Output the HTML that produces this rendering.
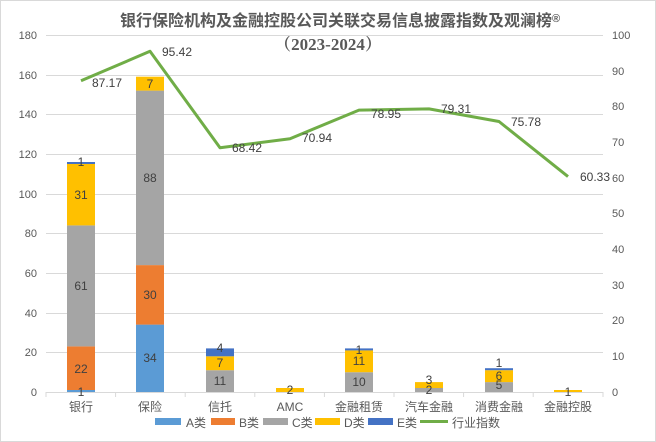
<!DOCTYPE html>
<html><head><meta charset="utf-8"><style>
body{margin:0;background:#fff}
svg{display:block;font-family:"Liberation Sans","Noto Sans CJK SC",sans-serif}
</style></head><body>
<svg width="656" height="442" viewBox="0 0 656 442">
<rect x="0.5" y="0.5" width="655" height="441" fill="#fff" stroke="#d9d9d9"/>
<text x="340" y="26" text-anchor="middle" font-size="16" font-weight="bold" fill="#595959">银行保险机构及金融控股公司关联交易信息披露指数及观澜榜<tspan font-size="11" dy="-4">®</tspan></text>
<text x="328" y="50" text-anchor="middle" font-size="17" font-weight="bold" fill="#595959" font-family="Liberation Serif,'Noto Serif CJK SC',serif">（2023-2024）</text>
<g stroke="#d9d9d9" stroke-width="1">
<line x1="46" x2="603" y1="35.5" y2="35.5"/><line x1="46" x2="603" y1="75.5" y2="75.5"/><line x1="46" x2="603" y1="114.5" y2="114.5"/><line x1="46" x2="603" y1="154.5" y2="154.5"/><line x1="46" x2="603" y1="194.5" y2="194.5"/><line x1="46" x2="603" y1="233.5" y2="233.5"/><line x1="46" x2="603" y1="273.5" y2="273.5"/><line x1="46" x2="603" y1="313.5" y2="313.5"/><line x1="46" x2="603" y1="352.5" y2="352.5"/><line x1="46" x2="603" y1="392.5" y2="392.5"/>
<line x1="46" x2="46" y1="392" y2="397"/><line x1="115.6" x2="115.6" y1="392" y2="397"/><line x1="185.2" x2="185.2" y1="392" y2="397"/><line x1="254.8" x2="254.8" y1="392" y2="397"/><line x1="324.4" x2="324.4" y1="392" y2="397"/><line x1="394" x2="394" y1="392" y2="397"/><line x1="463.6" x2="463.6" y1="392" y2="397"/><line x1="533.2" x2="533.2" y1="392" y2="397"/><line x1="603" x2="603" y1="392" y2="397"/>
</g>
<g font-size="11" fill="#595959" text-anchor="end">
<text x="37" y="39">180</text><text x="37" y="79">160</text><text x="37" y="118">140</text><text x="37" y="158">120</text><text x="37" y="198">100</text><text x="37" y="237">80</text><text x="37" y="277">60</text><text x="37" y="317">40</text><text x="37" y="356">20</text><text x="37" y="396">0</text>
</g>
<g font-size="11" fill="#595959" text-anchor="start">
<text x="612" y="39">100</text><text x="612" y="75">90</text><text x="612" y="110">80</text><text x="612" y="146">70</text><text x="612" y="182">60</text><text x="612" y="217">50</text><text x="612" y="253">40</text><text x="612" y="289">30</text><text x="612" y="324">20</text><text x="612" y="360">10</text><text x="612" y="396">0</text>
</g>
<g font-size="12" fill="#595959" text-anchor="middle">
<text x="81" y="411">银行</text><text x="150" y="411">保险</text><text x="220" y="411">信托</text><text x="290" y="411">AMC</text><text x="359" y="411">金融租赁</text><text x="429" y="411">汽车金融</text><text x="499" y="411">消费金融</text><text x="568" y="411">金融控股</text>
</g>
<g>
<rect x="67" y="390" width="28" height="2" fill="#5b9bd5"/>
<rect x="67" y="346.4" width="28" height="43.6" fill="#ed7d31"/>
<rect x="67" y="225.4" width="28" height="121" fill="#a5a5a5"/>
<rect x="67" y="164" width="28" height="61.4" fill="#ffc000"/>
<rect x="67" y="162" width="28" height="2" fill="#4472c4"/>
<rect x="136" y="324.6" width="28" height="67.4" fill="#5b9bd5"/>
<rect x="136" y="265.1" width="28" height="59.5" fill="#ed7d31"/>
<rect x="136" y="90.6" width="28" height="174.5" fill="#a5a5a5"/>
<rect x="136" y="76.7" width="28" height="13.9" fill="#ffc000"/>
<rect x="206" y="370.2" width="28" height="21.8" fill="#a5a5a5"/>
<rect x="206" y="356.3" width="28" height="13.9" fill="#ffc000"/>
<rect x="206" y="348.4" width="28" height="7.9" fill="#4472c4"/>
<rect x="276" y="388" width="28" height="4" fill="#ffc000"/>
<rect x="345" y="372.2" width="28" height="19.8" fill="#a5a5a5"/>
<rect x="345" y="350.4" width="28" height="21.8" fill="#ffc000"/>
<rect x="345" y="348.4" width="28" height="2" fill="#4472c4"/>
<rect x="415" y="388" width="28" height="4" fill="#a5a5a5"/>
<rect x="415" y="382.1" width="28" height="5.9" fill="#ffc000"/>
<rect x="485" y="382.1" width="28" height="9.9" fill="#a5a5a5"/>
<rect x="485" y="370.2" width="28" height="11.9" fill="#ffc000"/>
<rect x="485" y="368.2" width="28" height="2" fill="#4472c4"/>
<rect x="554" y="390" width="28" height="2" fill="#ffc000"/>
</g>
<g font-size="12" fill="#404040" text-anchor="middle">
<text x="81" y="396">1</text><text x="81" y="373">22</text><text x="81" y="290">61</text><text x="81" y="199">31</text><text x="81" y="166">1</text>
<text x="150" y="362">34</text><text x="150" y="299">30</text><text x="150" y="182">88</text><text x="150" y="88">7</text>
<text x="220" y="385">11</text><text x="220" y="367">7</text><text x="220" y="352">4</text>
<text x="290" y="394">2</text>
<text x="359" y="386">10</text><text x="359" y="365">11</text><text x="359" y="354">1</text>
<text x="429" y="394">2</text><text x="429" y="384">3</text>
<text x="499" y="389">5</text><text x="499" y="380">6</text><text x="499" y="367">1</text>
<text x="568" y="396">1</text>
</g>
<polyline fill="none" stroke="#70ad47" stroke-width="3" stroke-linejoin="round" points="81,80.8 150,51.3 220,147.7 290,138.7 359,110.1 429,108.9 499,121.5 568,176.6"/>
<g font-size="12" fill="#404040">
<text x="92" y="87">87.17</text><text x="162" y="56">95.42</text><text x="232" y="152">68.42</text><text x="302" y="142">70.94</text><text x="371" y="118">78.95</text><text x="441" y="113">79.31</text><text x="511" y="126">75.78</text><text x="580" y="181">60.33</text>
</g>
<g font-size="12" fill="#595959">
<rect x="155" y="418" width="26" height="7" fill="#5b9bd5"/><text x="186" y="427">A类</text>
<rect x="211" y="418" width="24" height="7" fill="#ed7d31"/><text x="239" y="427">B类</text>
<rect x="263" y="418" width="25" height="7" fill="#a5a5a5"/><text x="292" y="427">C类</text>
<rect x="315" y="418" width="25" height="7" fill="#ffc000"/><text x="344" y="427">D类</text>
<rect x="368" y="418" width="25" height="7" fill="#4472c4"/><text x="397" y="427">E类</text>
<line x1="420" x2="448" y1="421.5" y2="421.5" stroke="#70ad47" stroke-width="3"/><text x="452" y="427">行业指数</text>
</g>
</svg>
</body></html>
